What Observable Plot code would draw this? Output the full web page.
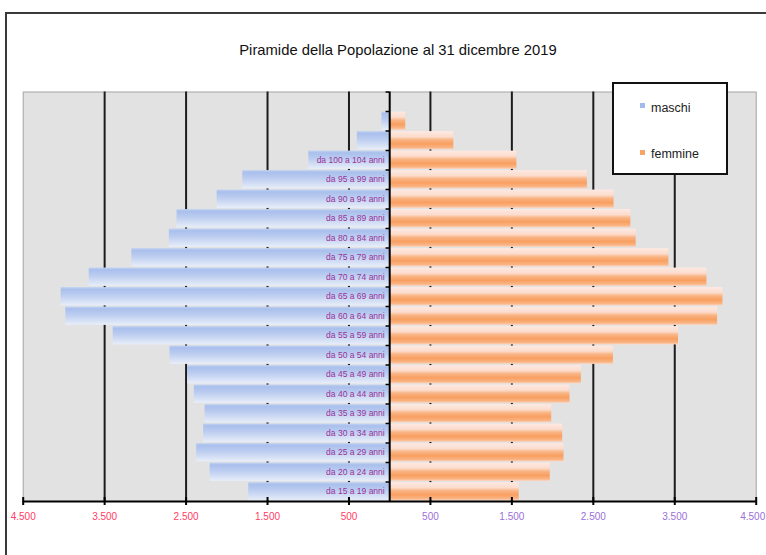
<!DOCTYPE html>
<html>
<head>
<meta charset="utf-8">
<script src="https://cdn.jsdelivr.net/npm/d3@7"></script>
<script src="https://cdn.jsdelivr.net/npm/@observablehq/plot@0.6"></script>
<style>
  html, body { margin: 0; padding: 0; background: #fff; }
  body { width: 766px; height: 555px; overflow: hidden; position: relative; font-family: "Liberation Sans", Arial, sans-serif; }
  #frame { position: absolute; left: 5px; top: 12px; width: 900px; height: 700px; border: 2px solid #3a3a3a; box-sizing: border-box; }
  #chart { position: absolute; left: 0; top: 0; }
  #title { position: absolute; left: 198px; width: 400px; top: 41px; text-align: center; font-size: 14.8px; line-height: 18px; color: #111; }
  #legend { position: absolute; left: 612px; top: 82px; width: 116px; height: 93px; box-sizing: border-box; border: 2px solid #111; background: #fff; }
  .sw { position: absolute; width: 5px; height: 5px; }
  .lt { position: absolute; font-size: 12.5px; line-height: 14px; color: #222; }
</style>
</head>
<body>
<div id="frame"></div>
<div id="chart"></div>
<div id="title">Piramide della Popolazione al 31 dicembre 2019</div>
<div id="legend">
  <div class="sw" style="left:26px;top:19px;background:#a3bbea"></div>
  <div class="lt" style="left:37px;top:17px">maschi</div>
  <div class="sw" style="left:26px;top:66px;background:#f8a468"></div>
  <div class="lt" style="left:37px;top:63px">femmine</div>
</div>
<script>
// Row labels as they appear in the picture (top to bottom)
const ageGroups = ["", "", "da 100 a 104 anni", "da 95 a 99 anni", "da 90 a 94 anni", "da 85 a 89 anni",
  "da 80 a 84 anni", "da 75 a 79 anni", "da 70 a 74 anni", "da 65 a 69 anni", "da 60 a 64 anni",
  "da 55 a 59 anni", "da 50 a 54 anni", "da 45 a 49 anni", "da 40 a 44 anni", "da 35 a 39 anni",
  "da 30 a 34 anni", "da 25 a 29 anni", "da 20 a 24 anni", "da 15 a 19 anni"];
const maschi = [95, 397, 993, 1804, 2119, 2611, 2706, 3165, 3690, 4034, 3977, 3395, 2697, 2481, 2399, 2267, 2284, 2370, 2205, 1731];
const femmine = [197, 787, 1562, 2427, 2755, 2961, 3026, 3428, 3895, 4092, 4026, 3546, 2747, 2353, 2214, 1989, 2124, 2140, 1972, 1590];
const ticksLeft = [-4500, -3500, -2500, -1500, -500];
const labelsLeft = ["4.500", "3.500", "2.500", "1.500", "500"];
const ticksRight = [500, 1500, 2500, 3500, 4500];
const labelsRight = ["500", "1.500", "2.500", "3.500", "4.500"];
const gridValues = [-3500, -2500, -1500, -500, 500, 1500, 2500, 3500];

const data = ageGroups.map((g, i) => ({row: i + 1, label: g, m: maschi[i], f: femmine[i]}));
const rows = d3.range(ageGroups.length + 1);

const W = 766, H = 555;
const mTop = 91.5, mBottom = 54, mLeft = 22.7, mRight = 10.3;
const step = (H - mTop - mBottom) / rows.length;
const leftMap = new Map(ticksLeft.map((t, i) => [t, labelsLeft[i]]));
const rightMap = new Map(ticksRight.map((t, i) => [t, labelsRight[i]]));
const rightInner = ticksRight.slice(0, -1);
const rightEdge = ticksRight.slice(-1);

const chart = Plot.plot({
  width: W, height: H,
  marginTop: mTop, marginBottom: mBottom, marginLeft: mLeft, marginRight: mRight,
  style: {fontFamily: "'Liberation Sans', Arial, sans-serif", background: "transparent", overflow: "visible"},
  x: {domain: [-4500, 4500]},
  y: {type: "band", domain: rows, paddingInner: 0.06, paddingOuter: 0.03, round: false, axis: null},
  marks: [
    Plot.frame({fill: "#e2e2e2", stroke: "#a3a3a3"}),
    Plot.ruleX(gridValues, {stroke: "#1c1c1c", strokeWidth: 2}),
    Plot.barX(data, {x1: d => -d.m, x2: 0, y: "row", fill: "url(#gradM)"}),
    Plot.barX(data, {x1: 0, x2: "f", y: "row", fill: "url(#gradF)"}),
    Plot.text(data.filter(d => d.label), {x: 0, y: "row", text: "label", textAnchor: "end", dx: -5, fill: "#993399", fontSize: 8.5}),
    Plot.ruleX([0], {stroke: "#000", strokeWidth: 2}),
    Plot.ruleY(rows, {x1: -45, x2: 0, dy: -step / 2, stroke: "#000", strokeWidth: 1.5}),
    Plot.ruleY([rows.length - 1], {x1: -4500, x2: 4500, dy: step / 2, stroke: "#000", strokeWidth: 2}),
    Plot.axisX([...ticksLeft, ...ticksRight], {tickSize: 8, dy: -4, tickFormat: () => "", stroke: "#000", strokeWidth: 2, label: null}),
    Plot.axisX(ticksLeft, {tickSize: 0, tickPadding: 11, tickFormat: d => leftMap.get(d), fill: "#ff3b63", color: "#ff3b63", fontSize: 10, label: null}),
    Plot.axisX(rightInner, {tickSize: 0, tickPadding: 11, tickFormat: d => rightMap.get(d), fill: "#9a6fd8", color: "#9a6fd8", fontSize: 10, label: null}),
    Plot.axisX(rightEdge, {tickSize: 0, tickPadding: 11, tickFormat: d => rightMap.get(d), textAnchor: "end", dx: 9, fill: "#9a6fd8", color: "#9a6fd8", fontSize: 10, label: null})
  ]
});

d3.select(chart).insert("defs", ":first-child").html(`
  <linearGradient id="gradM" x1="0" y1="0" x2="0" y2="1">
    <stop offset="0" stop-color="#c3d3f2"/>
    <stop offset="0.12" stop-color="#a9bfec"/>
    <stop offset="0.45" stop-color="#bccdf0"/>
    <stop offset="1" stop-color="#e8eef9"/>
  </linearGradient>
  <linearGradient id="gradF" x1="0" y1="0" x2="0" y2="1">
    <stop offset="0" stop-color="#fde9e2"/>
    <stop offset="0.3" stop-color="#fcdccd"/>
    <stop offset="0.48" stop-color="#f9b382"/>
    <stop offset="0.7" stop-color="#f89f61"/>
    <stop offset="0.9" stop-color="#fab585"/>
    <stop offset="1" stop-color="#fcd6c2"/>
  </linearGradient>`);

document.getElementById("chart").appendChild(chart);
</script>
</body>
</html>
